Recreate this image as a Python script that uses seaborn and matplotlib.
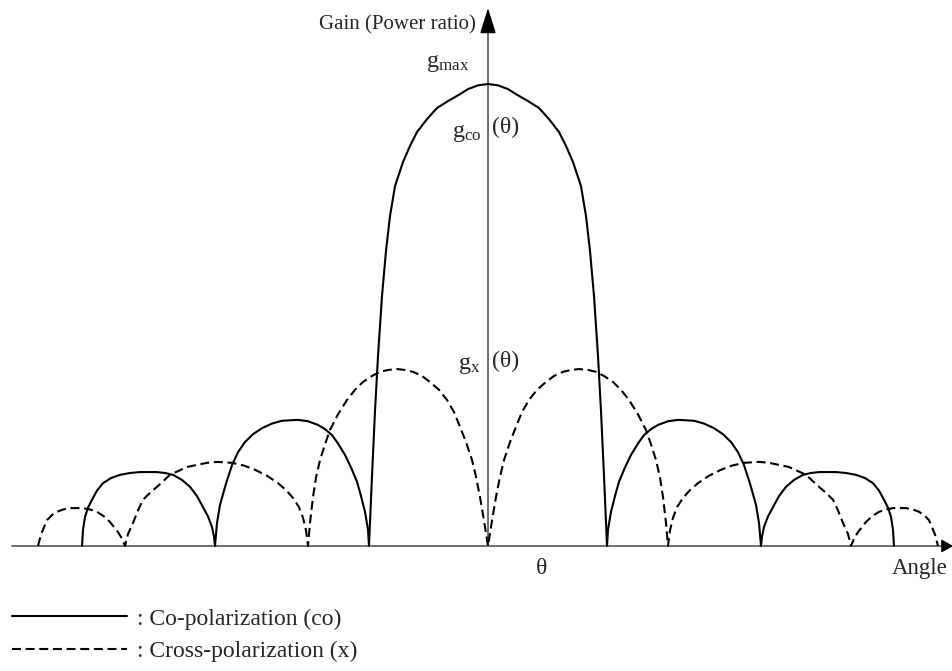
import numpy as np
import pandas as pd
import seaborn as sns
import matplotlib.pyplot as plt
from matplotlib.lines import Line2D

# left half of the pattern (angle <= 0); the right half mirrors it
co_angle = [-40.6, -40.5, -40.3, -40.0, -39.6, -39.1, -38.5, -37.7, -36.8, -35.8, -34.8,
            -33.1, -32.3, -31.5, -30.6, -29.8, -29.1, -28.5, -28.0, -27.6, -27.4,
            -27.3, -27.1, -26.8, -26.2, -25.6, -25.0, -24.3, -23.5, -22.6, -21.6, -20.6,
            -19.0, -18.0, -17.0, -16.3, -15.6, -15.0, -14.3, -13.7, -13.1, -12.7, -12.3, -12.0,
            -11.9, -11.6, -11.3, -11.0, -10.6, -10.2, -9.8, -9.3, -8.5, -7.8, -7.1, -6.1,
            -5.1, -4.0, -2.8, -2.0, -1.0, 0.0]
co_gain = [0.0, 0.035, 0.063, 0.083, 0.10, 0.12, 0.136, 0.147, 0.154, 0.158, 0.16,
           0.16, 0.158, 0.154, 0.143, 0.128, 0.108, 0.084, 0.064, 0.041, 0.02,
           0.0, 0.05, 0.089, 0.135, 0.175, 0.203, 0.225, 0.242, 0.255, 0.265, 0.271,
           0.273, 0.270, 0.262, 0.253, 0.24, 0.222, 0.197, 0.17, 0.139, 0.108, 0.074, 0.035,
           0.0, 0.152, 0.292, 0.411, 0.541, 0.639, 0.714, 0.779, 0.831, 0.866, 0.896, 0.924,
           0.948, 0.963, 0.978, 0.989, 0.997, 1.0]

x_angle = [-45.0, -44.7, -44.1, -43.6, -43.1, -42.5, -41.8, -40.5, -39.8, -39.1, -38.4,
           -37.8, -37.0, -36.6,
           -36.3, -36.0, -35.5, -35.0, -34.5, -33.8, -33.1, -31.8, -30.1, -28.1, -27.1,
           -25.6, -24.4, -23.3, -22.1, -21.0, -20.2, -19.5, -18.9, -18.5, -18.2,
           -18.0, -17.8, -17.5, -17.2, -16.8, -16.3, -15.8, -15.0, -14.1, -13.3, -12.5,
           -11.6, -10.8, -10.0, -9.1, -8.3, -7.5, -6.6, -5.8, -4.9, -4.1, -3.4, -2.8,
           -2.2, -1.6, -1.2, -0.8, -0.4, 0.0]
x_gain = [0.0, 0.025, 0.056, 0.067, 0.074, 0.079, 0.082, 0.082, 0.079, 0.074, 0.064,
          0.052, 0.030, 0.016,
          0.0, 0.026, 0.05, 0.077, 0.10, 0.115, 0.128, 0.154, 0.171, 0.18, 0.182,
          0.18, 0.174, 0.165, 0.152, 0.136, 0.121, 0.104, 0.084, 0.061, 0.034,
          0.0, 0.05, 0.106, 0.148, 0.186, 0.22, 0.251, 0.285, 0.316, 0.338, 0.355,
          0.368, 0.377, 0.381, 0.383, 0.381, 0.377, 0.368, 0.355, 0.338, 0.316, 0.29, 0.258,
          0.225, 0.186, 0.15, 0.106, 0.055, 0.0]

legend_labels = [': Co-polarization (co)', ': Cross-polarization (x)']


def mirror(a, g):
    a = np.array(a)
    g = np.array(g)
    return np.concatenate([a, -a[::-1][1:]]), np.concatenate([g, g[::-1][1:]])


ca, cg = mirror(co_angle, co_gain)
xa, xg = mirror(x_angle, x_gain)
df = pd.concat([pd.DataFrame({'angle': ca, 'gain': cg, 'pol': 'co'}),
                pd.DataFrame({'angle': xa, 'gain': xg, 'pol': 'x'})], ignore_index=True)

sns.set_style('white')
plt.rcParams['font.family'] = ['Liberation Serif', 'DejaVu Serif']
plt.rcParams['mathtext.fontset'] = 'custom'
plt.rcParams['mathtext.rm'] = 'Liberation Serif'
plt.rcParams['mathtext.it'] = 'Liberation Serif:italic'

fig = plt.figure(figsize=(9.53, 6.71), dpi=100)
ax = fig.add_axes([0, 0, 1, 1])
ax.set_xlim(-48.8, 46.5)
ax.set_ylim(-0.2706, 1.1818)
ax.axis('off')

dash = (4.3, 2.25)
sns.lineplot(data=df, x='angle', y='gain', style='pol', dashes={'co': '', 'x': dash},
             color='black', linewidth=1.5, sort=False, estimator=None, legend=False, ax=ax)
for ln in ax.lines:
    ln.set_solid_joinstyle('round')

# axes with arrows
axis_col = '#555555'
ax.plot([-47.6, 46.0], [0, 0], color=axis_col, lw=1.2, zorder=1)
ax.plot([0, 0], [0, 1.15], color=axis_col, lw=1.2, zorder=1)
ax.annotate('', xy=(0, 1.1645), xytext=(0, 1.12),
            arrowprops=dict(arrowstyle='-|>,head_length=0.8,head_width=0.25', color='black',
                            lw=1.0, shrinkA=0, shrinkB=0, mutation_scale=20))
ax.annotate('', xy=(46.5, 0), xytext=(45.5, 0),
            arrowprops=dict(arrowstyle='-|>,head_length=0.35,head_width=0.2', color='black',
                            lw=1.0, shrinkA=0, shrinkB=0, mutation_scale=20))

ax.text(-1.2, 1.128, 'Gain (Power ratio)', ha='right', va='center', fontsize=15)
ax.text(-1.9, 1.045, r'$\mathrm{g}_{\mathrm{max}}$', ha='right', va='center', fontsize=17.5)
ax.text(-0.6, 0.893, r'$\mathrm{g}_{\mathrm{co}}$', ha='right', va='center', fontsize=17.5)
ax.text(0.4, 0.905, '(θ)', ha='left', va='center', fontsize=17)
ax.text(-0.7, 0.39, r'$\mathrm{g}_{\mathrm{x}}$', ha='right', va='center', fontsize=17.5)
ax.text(0.4, 0.40, '(θ)', ha='left', va='center', fontsize=17)
ax.text(5.4, -0.048, 'θ', ha='center', va='center', fontsize=17)
ax.text(46.0, -0.048, 'Angle', ha='right', va='center', fontsize=16.5)

handles = [Line2D([], [], color='black', lw=1.5),
           Line2D([], [], color='black', lw=1.5, dashes=dash)]
ax.legend(handles, legend_labels, loc='upper left', bbox_to_anchor=(12 / 953, 1 - 608 / 671),
          frameon=False, fontsize=17, handlelength=4.87, handletextpad=0.42,
          borderpad=0, borderaxespad=0, labelspacing=0.48)

fig.savefig('out.png', dpi=100)
